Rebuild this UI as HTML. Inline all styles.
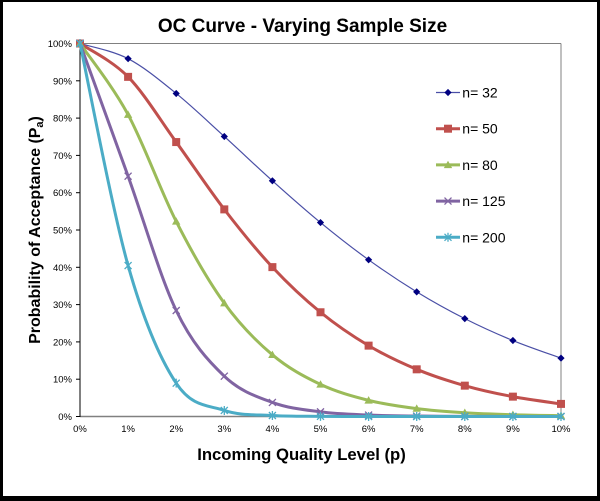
<!DOCTYPE html>
<html>
<head>
<meta charset="utf-8">
<style>
  html,body{margin:0;padding:0;background:#fff;}
  svg{display:block;}
  text{font-family:"Liberation Sans",Arial,sans-serif;}
</style>
</head>
<body>
<svg width="600" height="501" viewBox="0 0 600 501" xmlns="http://www.w3.org/2000/svg">
  <defs>
    <g id="mDia"><polygon points="0,-3.6 3.6,0 0,3.6 -3.6,0" fill="#000080"/></g>
    <g id="mSq"><rect x="-4" y="-4" width="8" height="8" fill="#C0504D"/></g>
    <g id="mTri"><polygon points="0,-4.2 4.2,3.2 -4.2,3.2" fill="#9BBB59"/></g>
    <g id="mX"><path d="M-3.5,-3.5 L3.5,3.5 M-3.5,3.5 L3.5,-3.5" stroke="#8064A2" stroke-width="1.3" fill="none"/></g>
    <g id="mAst"><path d="M-3.5,-3.5 L3.5,3.5 M-3.5,3.5 L3.5,-3.5 M0,-4.5 L0,4.5" stroke="#4BACC6" stroke-width="1.3" fill="none"/></g>
  </defs>

  <!-- outer frame -->
  <rect x="0" y="0" width="600" height="501" fill="#000"/>
  <rect x="3" y="2" width="594" height="494" fill="#fff"/>

  <!-- title -->
  <text x="302.5" y="32" font-size="19" font-weight="bold" text-anchor="middle" fill="#000">OC Curve - Varying Sample Size</text>

  <!-- plot frame -->
  <line x1="80" y1="43.5" x2="561" y2="43.5" stroke="#808080" stroke-width="1"/>
  <line x1="561" y1="43.5" x2="561" y2="416.5" stroke="#808080" stroke-width="1"/>
  <line x1="80" y1="416.5" x2="561" y2="416.5" stroke="#808080" stroke-width="1.5"/>
  <line x1="80" y1="43" x2="80" y2="417" stroke="#000" stroke-width="1"/>

  <!-- y ticks -->
  <g stroke="#000" stroke-width="1">
    <line x1="76" y1="416.5" x2="80" y2="416.5"/>
    <line x1="76" y1="379.2" x2="80" y2="379.2"/>
    <line x1="76" y1="341.9" x2="80" y2="341.9"/>
    <line x1="76" y1="304.6" x2="80" y2="304.6"/>
    <line x1="76" y1="267.3" x2="80" y2="267.3"/>
    <line x1="76" y1="230" x2="80" y2="230"/>
    <line x1="76" y1="192.7" x2="80" y2="192.7"/>
    <line x1="76" y1="155.4" x2="80" y2="155.4"/>
    <line x1="76" y1="118.1" x2="80" y2="118.1"/>
    <line x1="76" y1="80.8" x2="80" y2="80.8"/>
    <line x1="76" y1="43.5" x2="80" y2="43.5"/>
  </g>
  <g font-size="9.5" text-anchor="end" fill="#000">
    <text x="72" y="420">0%</text>
    <text x="72" y="382.7">10%</text>
    <text x="72" y="345.4">20%</text>
    <text x="72" y="308.1">30%</text>
    <text x="72" y="270.8">40%</text>
    <text x="72" y="233.5">50%</text>
    <text x="72" y="196.2">60%</text>
    <text x="72" y="158.9">70%</text>
    <text x="72" y="121.6">80%</text>
    <text x="72" y="84.3">90%</text>
    <text x="72" y="47">100%</text>
  </g>
  <g font-size="9.5" text-anchor="middle" fill="#000">
    <text x="80" y="432">0%</text>
    <text x="128.1" y="432">1%</text>
    <text x="176.2" y="432">2%</text>
    <text x="224.3" y="432">3%</text>
    <text x="272.4" y="432">4%</text>
    <text x="320.5" y="432">5%</text>
    <text x="368.6" y="432">6%</text>
    <text x="416.7" y="432">7%</text>
    <text x="464.8" y="432">8%</text>
    <text x="512.9" y="432">9%</text>
    <text x="561" y="432">10%</text>
  </g>

  <!-- axis titles -->
  <text x="301.5" y="460" font-size="16.7" font-weight="bold" text-anchor="middle" fill="#000">Incoming Quality Level (p)</text>
  <text transform="translate(40,230) rotate(-90)" x="0" y="0" font-size="16" font-weight="bold" text-anchor="middle" fill="#000">Probability of Acceptance (P<tspan font-size="11" dy="3">a</tspan><tspan dy="-3">)</tspan></text>

  <!-- n=32 -->
  <path d="M80,43.5 C88.02,46.03 112.07,50.35 128.1,58.68 S160.17,80.50 176.2,93.47 S208.27,121.93 224.3,136.48 S256.37,166.46 272.4,180.80 S304.47,209.38 320.5,222.55 S352.57,248.26 368.6,259.81 S400.67,282.04 416.7,291.84 S448.77,310.51 464.8,318.62 S496.87,333.94 512.9,340.53 S552.98,355.21 561,358.15" fill="none" stroke="#4A4FA6" stroke-width="1.2"/>
  <use href="#mDia" x="80" y="43.5"/><use href="#mDia" x="128.1" y="58.68"/><use href="#mDia" x="176.2" y="93.47"/><use href="#mDia" x="224.3" y="136.48"/><use href="#mDia" x="272.4" y="180.8"/><use href="#mDia" x="320.5" y="222.55"/><use href="#mDia" x="368.6" y="259.81"/><use href="#mDia" x="416.7" y="291.84"/><use href="#mDia" x="464.8" y="318.62"/><use href="#mDia" x="512.9" y="340.53"/><use href="#mDia" x="561" y="358.15"/>

  <!-- n=50 -->
  <path d="M80,43.5 C88.02,49.06 112.07,60.43 128.1,76.86 S160.17,119.97 176.2,142.06 S208.27,188.54 224.3,209.38 S256.37,249.97 272.4,267.12 S304.47,299.19 320.5,312.27 S352.57,336.12 368.6,345.63 S400.67,362.65 416.7,369.32 S448.77,381.10 464.8,385.65 S496.87,393.60 512.9,396.64 S552.98,402.69 561,403.90" fill="none" stroke="#C0504D" stroke-width="3"/>
  <use href="#mSq" x="80" y="43.5"/><use href="#mSq" x="128.1" y="76.86"/><use href="#mSq" x="176.2" y="142.06"/><use href="#mSq" x="224.3" y="209.38"/><use href="#mSq" x="272.4" y="267.12"/><use href="#mSq" x="320.5" y="312.27"/><use href="#mSq" x="368.6" y="345.63"/><use href="#mSq" x="416.7" y="369.32"/><use href="#mSq" x="464.8" y="385.65"/><use href="#mSq" x="512.9" y="396.64"/><use href="#mSq" x="561" y="403.9"/>

  <!-- n=80 -->
  <path d="M80,43.5 C88.02,55.37 112.07,85.04 128.1,114.69 S160.17,190.02 176.2,221.43 S208.27,280.95 224.3,303.18 S256.37,341.27 272.4,354.81 S304.47,376.81 320.5,384.40 S352.57,396.34 368.6,400.37 S400.67,406.55 416.7,408.61 S448.77,411.72 464.8,412.74 S496.87,414.25 512.9,414.74 S552.98,415.53 561,415.69" fill="none" stroke="#9BBB59" stroke-width="3"/>
  <use href="#mTri" x="80" y="43.5"/><use href="#mTri" x="128.1" y="114.69"/><use href="#mTri" x="176.2" y="221.43"/><use href="#mTri" x="224.3" y="303.18"/><use href="#mTri" x="272.4" y="354.81"/><use href="#mTri" x="320.5" y="384.4"/><use href="#mTri" x="368.6" y="400.37"/><use href="#mTri" x="416.7" y="408.61"/><use href="#mTri" x="464.8" y="412.74"/><use href="#mTri" x="512.9" y="414.74"/><use href="#mTri" x="561" y="415.69"/>

  <!-- n=125 -->
  <path d="M80,43.5 C88.02,65.62 112.07,131.72 128.1,176.22 S160.17,277.17 176.2,310.50 S208.27,360.88 224.3,376.20 S256.37,396.48 272.4,402.42 S304.47,409.76 320.5,411.86 S352.57,414.33 368.6,415.03 S400.67,415.83 416.7,416.05 S448.77,416.30 464.8,416.37 S496.87,416.44 512.9,416.46 S552.98,416.49 561,416.5" fill="none" stroke="#8064A2" stroke-width="3"/>
  <use href="#mX" x="80" y="43.5"/><use href="#mX" x="128.1" y="176.22"/><use href="#mX" x="176.2" y="310.5"/><use href="#mX" x="224.3" y="376.2"/><use href="#mX" x="272.4" y="402.42"/><use href="#mX" x="320.5" y="411.86"/><use href="#mX" x="368.6" y="415.03"/><use href="#mX" x="416.7" y="416.05"/><use href="#mX" x="464.8" y="416.37"/><use href="#mX" x="512.9" y="416.46"/><use href="#mX" x="561" y="416.5"/>

  <!-- n=200 -->
  <path d="M80,43.5 C88.02,80.51 112.07,208.96 128.1,265.57 S160.17,359.02 176.2,383.16 S208.27,405.05 224.3,410.44 S256.37,414.53 272.4,415.51 S304.47,416.19 320.5,416.35 S352.57,416.48 368.6,416.5 S400.67,416.5 416.7,416.5 S448.77,416.5 464.8,416.5 S496.87,416.5 512.9,416.5 S552.98,416.5 561,416.5" fill="none" stroke="#4BACC6" stroke-width="3"/>
  <use href="#mAst" x="80" y="43.5"/><use href="#mAst" x="128.1" y="265.57"/><use href="#mAst" x="176.2" y="383.16"/><use href="#mAst" x="224.3" y="410.44"/><use href="#mAst" x="272.4" y="415.51"/><use href="#mAst" x="320.5" y="416.35"/><use href="#mAst" x="368.6" y="416.5"/><use href="#mAst" x="416.7" y="416.5"/><use href="#mAst" x="464.8" y="416.5"/><use href="#mAst" x="512.9" y="416.5"/><use href="#mAst" x="561" y="416.5"/>

  <!-- legend -->
  <g font-size="14" fill="#000">
    <line x1="436" y1="92.5" x2="460" y2="92.5" stroke="#4A4FA6" stroke-width="1.2"/>
    <use href="#mDia" x="448" y="92.5"/>
    <text x="462.3" y="97.5">n= 32</text>

    <line x1="436" y1="128.7" x2="460" y2="128.7" stroke="#C0504D" stroke-width="3"/>
    <use href="#mSq" x="448" y="128.7"/>
    <text x="462.3" y="133.7">n= 50</text>

    <line x1="436" y1="164.9" x2="460" y2="164.9" stroke="#9BBB59" stroke-width="3"/>
    <use href="#mTri" x="448" y="164.9"/>
    <text x="462.3" y="169.9">n= 80</text>

    <line x1="436" y1="201.1" x2="460" y2="201.1" stroke="#8064A2" stroke-width="3"/>
    <use href="#mX" x="448" y="201.1"/>
    <text x="462.3" y="206.1">n= 125</text>

    <line x1="436" y1="237.3" x2="460" y2="237.3" stroke="#4BACC6" stroke-width="3"/>
    <use href="#mAst" x="448" y="237.3"/>
    <text x="462.3" y="242.3">n= 200</text>
  </g>
</svg>
</body>
</html>
